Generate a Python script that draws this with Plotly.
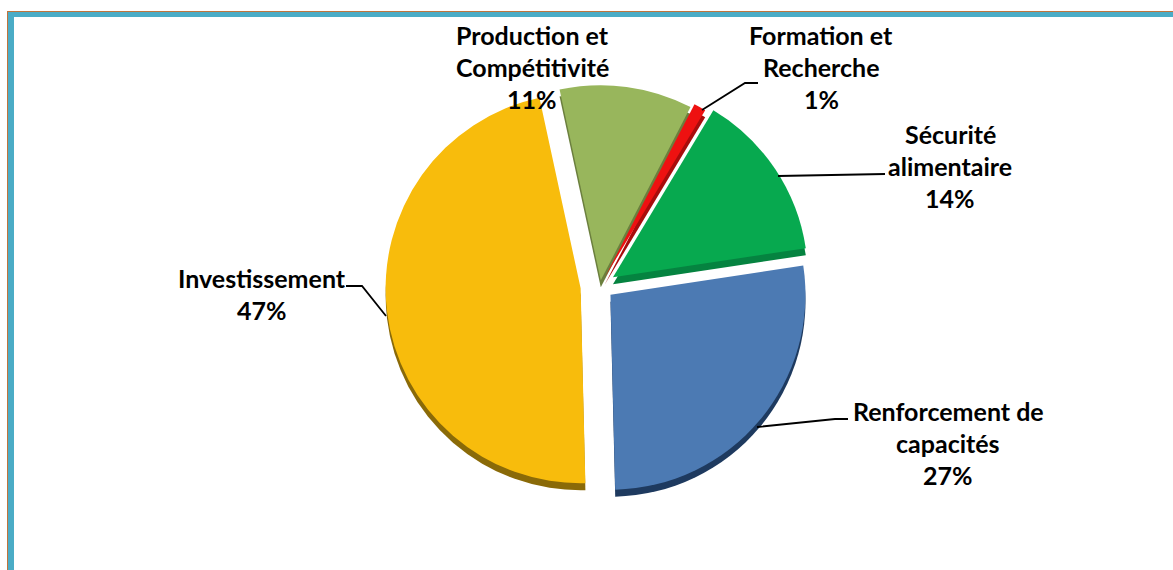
#!/usr/bin/env python3

import plotly.graph_objects as go

W, H = 1173, 570

categories = ['Sécurité alimentaire', 'Renforcement de capacités', 'Investissement',
              'Production et Compétitivité', 'Formation et Recherche']
values = [14, 27, 47, 11, 1]
pulls = [0.08, 0.07, 0.1, 0.03, 0.05]
colors = ['#07A94F', '#4C7AB3', '#F8BC0C', '#98B65C', '#EE1111']
side_colors = ['#058340', '#1E3A5F', '#8A6A08', '#6B7F3E', '#A80C0C']

# text lines of each label, last line is the percent
label_lines = [
    ['Sécurité', 'alimentaire', '14%'],
    ['Renforcement de', 'capacités', '27%'],
    ['Investissement', '47%'],
    ['Production et', 'Compétitivité', '11%'],
    ['Formation et', 'Recherche', '1%'],
]
label_x = [950, 948, 262, 532, 821]
label_y = [134, 411, 278, 35, 35]
LINE_STEP = 32

# leader lines in pixels
leaders = [
    [(778, 176), (885, 174)],
    [(757, 427), (835, 419), (848, 419)],
    [(346, 286), (362, 286), (386, 316)],
    [(702, 110), (745, 83), (758, 83)],
]

CX, CY = 600, 286
HALF = 214.5
DEPTH = 7


def px(x):
    return x / W


def py(y):
    return 1 - y / H


def pie_trace(pie_colors, shift):
    return go.Pie(
        labels=categories,
        values=values,
        pull=pulls,
        sort=False,
        direction='clockwise',
        rotation=31,
        textinfo='none',
        showlegend=False,
        marker=dict(colors=pie_colors, line=dict(width=0)),
        domain=dict(x=[px(CX - HALF), px(CX + HALF)],
                    y=[py(CY + HALF + shift), py(CY - HALF + shift)]),
    )


fig = go.Figure()
fig.add_trace(pie_trace(side_colors, DEPTH))
fig.add_trace(pie_trace(colors, 0))

# frame, only top and left sides
fig.add_shape(type='rect', xref='paper', yref='paper', layer='below', line_width=0,
              x0=px(7), x1=px(14), y0=0, y1=py(11), fillcolor='#4BACC6')
fig.add_shape(type='rect', xref='paper', yref='paper', layer='below', line_width=0,
              x0=px(7), x1=1, y0=py(17), y1=py(11), fillcolor='#4BACC6')
fig.add_shape(type='rect', xref='paper', yref='paper', layer='below', line_width=0,
              x0=px(7), x1=1, y0=py(12), y1=py(11), fillcolor='#C0743C')
fig.add_shape(type='rect', xref='paper', yref='paper', layer='below', line_width=0,
              x0=px(7), x1=px(8), y0=0, y1=py(11), fillcolor='#C0743C')

for pts in leaders:
    path = 'M ' + ' L '.join(f'{px(x)} {py(y)}' for x, y in pts)
    fig.add_shape(type='path', path=path, xref='paper', yref='paper',
                  line=dict(color='black', width=1.8))

for lines, x, y in zip(label_lines, label_x, label_y):
    for i, line in enumerate(lines):
        fig.add_annotation(
            x=px(x), y=py(y + i * LINE_STEP), xref='paper', yref='paper',
            text=f'<b>{line}</b>', showarrow=False, xanchor='center', yanchor='middle',
            font=dict(family='Lato', size=25, color='black'),
        )

fig.update_layout(
    width=W,
    height=H,
    margin=dict(l=0, r=0, t=0, b=0),
    paper_bgcolor='white',
    plot_bgcolor='white',
)

# the page is exactly the figure, no default body margin
fig.write_html("out.html", config={'displayModeBar': False},
               post_script="document.body.style.margin='0';")
